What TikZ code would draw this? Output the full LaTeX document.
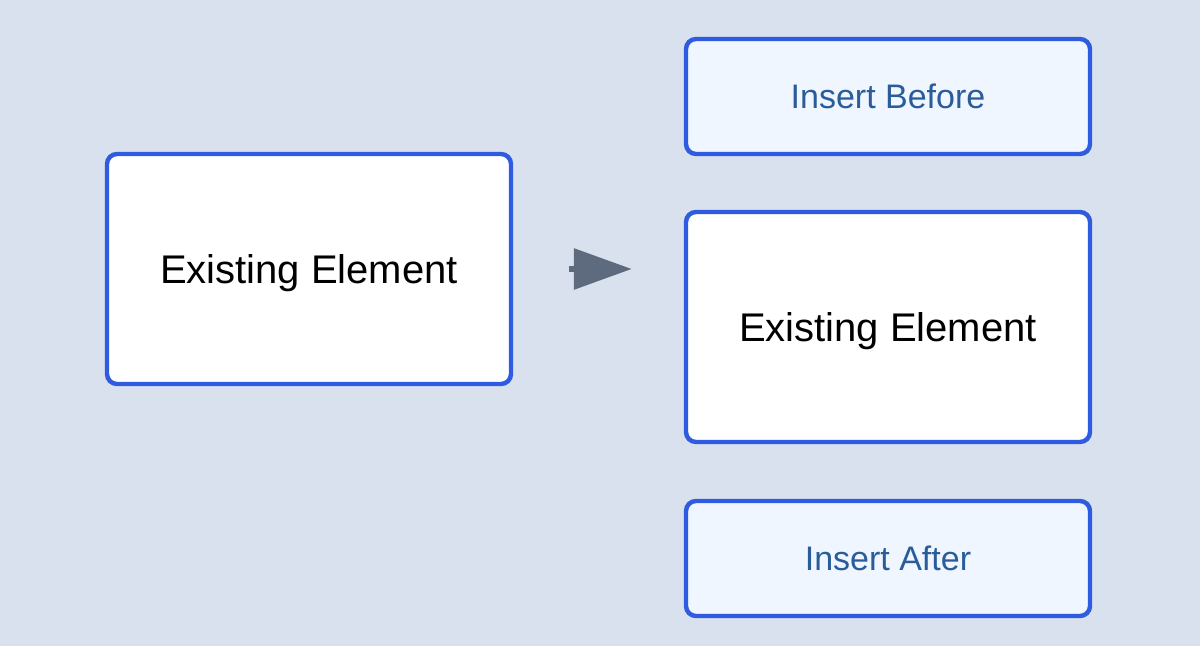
\documentclass[tikz,border=0pt]{standalone}
\usepackage{fontspec}
\setmainfont{Liberation Sans}
\usetikzlibrary{arrows.meta,calc}

\definecolor{bgc}{HTML}{D9E1EE}
\definecolor{edgec}{HTML}{2F5BE0}
\definecolor{insfill}{HTML}{EFF6FF}
\definecolor{instext}{HTML}{2A5C9A}
\definecolor{arrowc}{HTML}{5E6A7D}

\tikzset{
  elem/.style={draw=edgec,line width=2.2pt,rounded corners=5pt,fill=white,text depth=0pt,
    minimum width=202pt,minimum height=115pt,font=\fontsize{20}{24}\selectfont},
  insbox/.style={elem,fill=insfill,text=instext,minimum height=57.5pt,
    font=\fontsize{17}{20}\selectfont}
}

\begin{document}
\begin{tikzpicture}[x=0.5pt,y=-0.5pt]
          \fill[bgc] (0,0) rectangle (1200,646);
          \node[elem] (old) at (309,269) {Existing Element};
          \node[insbox] (before) at (888,96.5) {Insert Before};
          \node[elem] (new) at (888,327) {Existing Element};
          \node[insbox] (after) at (888,558.5) {Insert After};
          \coordinate (from) at ($(old.east)+(56,0)$);
          \coordinate (to) at ($(new.west)+(-52,-58)$);
          \draw[arrowc,line width=3pt,-{Triangle[length=29pt,width=20pt]}] (from)--(to);
        \end{tikzpicture}
\end{document}
